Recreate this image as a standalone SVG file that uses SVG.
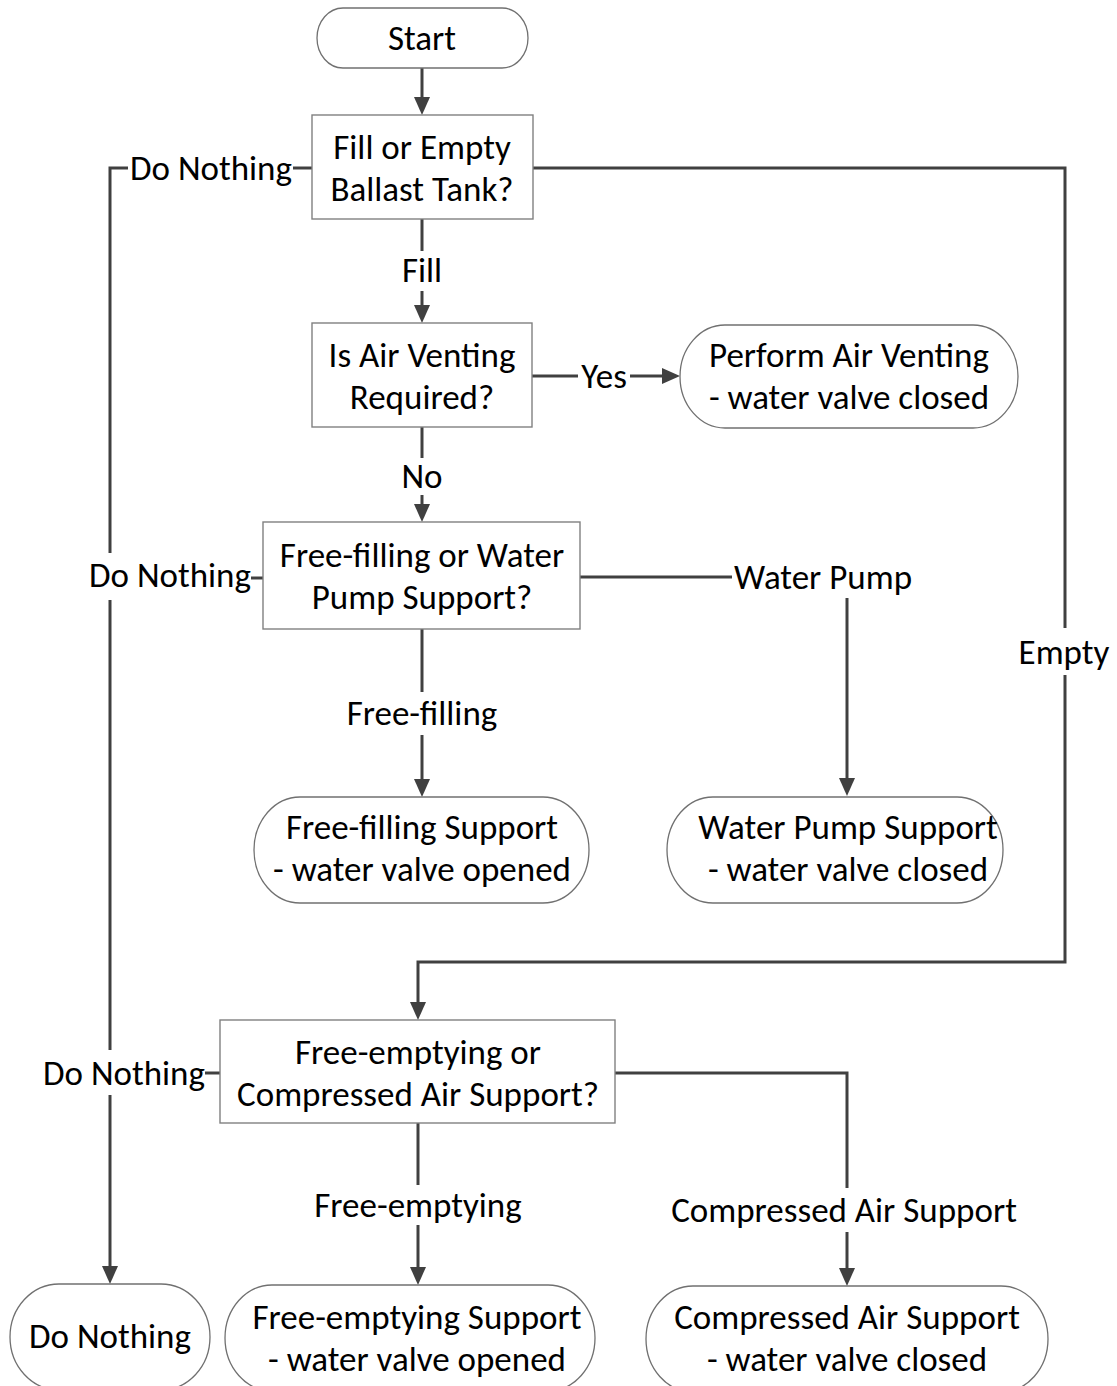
<svg xmlns="http://www.w3.org/2000/svg" width="1117" height="1386" viewBox="0 0 1117 1386">
<style>
  .box { fill: #ffffff; stroke: #808080; stroke-width: 1.4; }
  .term { fill: #ffffff; stroke: #707070; stroke-width: 1.3; }
  .t { font-family: Carlito, Lato, "Liberation Sans", sans-serif; font-size: 35px; fill: #000000; text-anchor: middle; }
  .c { fill: none; stroke: #404040; stroke-width: 3; }
  .ca { fill: none; stroke: #404040; stroke-width: 3; marker-end: url(#arr); }
</style>
<defs>
  <marker id="arr" markerUnits="userSpaceOnUse" markerWidth="20" markerHeight="18" refX="8" refY="8" orient="auto">
    <path d="M0,0 L18,8 L0,16 Z" fill="#404040"/>
  </marker>
</defs>
<rect width="1117" height="1386" fill="#ffffff"/>

<g id="connectors">
  <path class="ca" d="M422,68 V105"/>
  <path class="c" d="M422,219 V251"/>
  <path class="ca" d="M422,291 V313"/>
  <path class="c" d="M532,376 H578"/>
  <path class="ca" d="M630,376 H670"/>
  <path class="c" d="M422,427 V458"/>
  <path class="ca" d="M422,495 V512"/>
  <path class="c" d="M422,629 V692"/>
  <path class="ca" d="M422,735 V787"/>
  <path class="c" d="M580,577 H732"/>
  <path class="ca" d="M847,598 V786"/>
  <path class="c" d="M533,168 H1065 V628"/>
  <path class="ca" d="M1065,675 V962 H418 V1010"/>
  <path class="c" d="M312,168 H293"/>
  <path class="c" d="M128,168 H110 V553"/>
  <path class="c" d="M110,600 V1050"/>
  <path class="ca" d="M110,1095 V1274"/>
  <path class="c" d="M251,578 H263"/>
  <path class="c" d="M205,1073 H220"/>
  <path class="c" d="M418,1123 V1185"/>
  <path class="ca" d="M418,1225 V1275"/>
  <path class="c" d="M615,1073 H847 V1188"/>
  <path class="ca" d="M847,1232 V1276"/>
  <text class="t" x="422" y="282">Fill</text>
  <text class="t" x="604" y="388">Yes</text>
  <text class="t" x="422" y="488">No</text>
  <text class="t" x="422" y="725">Free-filling</text>
  <text class="t" x="823" y="589">Water Pump</text>
  <text class="t" x="1064" y="664">Empty</text>
  <text class="t" x="211" y="180">Do Nothing</text>
  <text class="t" x="170" y="587">Do Nothing</text>
  <text class="t" x="124" y="1085">Do Nothing</text>
  <text class="t" x="418" y="1217">Free-emptying</text>
  <text class="t" x="844" y="1222">Compressed Air Support</text>
</g>

<g id="start">
  <path class="term" d="M343,8 H502 A26 30 0 0 1 502,68 H343 A26 30 0 0 1 343,8 Z"/>
  <text class="t" x="422" y="50">Start</text>
</g>
<g id="q-fill-empty">
  <rect class="box" x="312" y="115" width="221" height="104"/>
  <text class="t" x="422" y="159">Fill or Empty</text>
  <text class="t" x="422" y="201">Ballast Tank?</text>
</g>
<g id="q-air-venting">
  <rect class="box" x="312" y="323" width="220" height="104"/>
  <text class="t" x="422" y="367">Is Air Venting</text>
  <text class="t" x="422" y="409">Required?</text>
</g>
<g id="perform-air-venting">
  <path class="term" d="M725,325 H973 A45 51.5 0 0 1 973,428 H725 A45 51.5 0 0 1 725,325 Z"/>
  <text class="t" x="849" y="367">Perform Air Venting</text>
  <text class="t" x="849" y="409">- water valve closed</text>
</g>
<g id="q-free-filling">
  <rect class="box" x="263" y="522" width="317" height="107"/>
  <text class="t" x="422" y="567">Free-filling or Water</text>
  <text class="t" x="422" y="609">Pump Support?</text>
</g>
<g id="free-filling-support">
  <path class="term" d="M300,797 H543 A46 53 0 0 1 543,903 H300 A46 53 0 0 1 300,797 Z"/>
  <text class="t" x="422" y="839">Free-filling Support</text>
  <text class="t" x="422" y="881">- water valve opened</text>
</g>
<g id="water-pump-support">
  <path class="term" d="M713,797 H957 A46 53 0 0 1 957,903 H713 A46 53 0 0 1 713,797 Z"/>
  <text class="t" x="848" y="839">Water Pump Support</text>
  <text class="t" x="848" y="881">- water valve closed</text>
</g>
<g id="q-free-emptying">
  <rect class="box" x="220" y="1020" width="395" height="103"/>
  <text class="t" x="418" y="1064">Free-emptying or</text>
  <text class="t" x="418" y="1106">Compressed Air Support?</text>
</g>
<g id="do-nothing">
  <path class="term" d="M59,1284 H161 A49 53 0 0 1 161,1390 H59 A49 53 0 0 1 59,1284 Z"/>
  <text class="t" x="110" y="1348">Do Nothing</text>
</g>
<g id="free-emptying-support">
  <path class="term" d="M272,1285 H548 A47 53 0 0 1 548,1391 H272 A47 53 0 0 1 272,1285 Z"/>
  <text class="t" x="417" y="1329">Free-emptying Support</text>
  <text class="t" x="417" y="1371">- water valve opened</text>
</g>
<g id="compressed-air-support">
  <path class="term" d="M693,1286 H1001 A47 53 0 0 1 1001,1392 H693 A47 53 0 0 1 693,1286 Z"/>
  <text class="t" x="847" y="1329">Compressed Air Support</text>
  <text class="t" x="847" y="1371">- water valve closed</text>
</g>
</svg>
